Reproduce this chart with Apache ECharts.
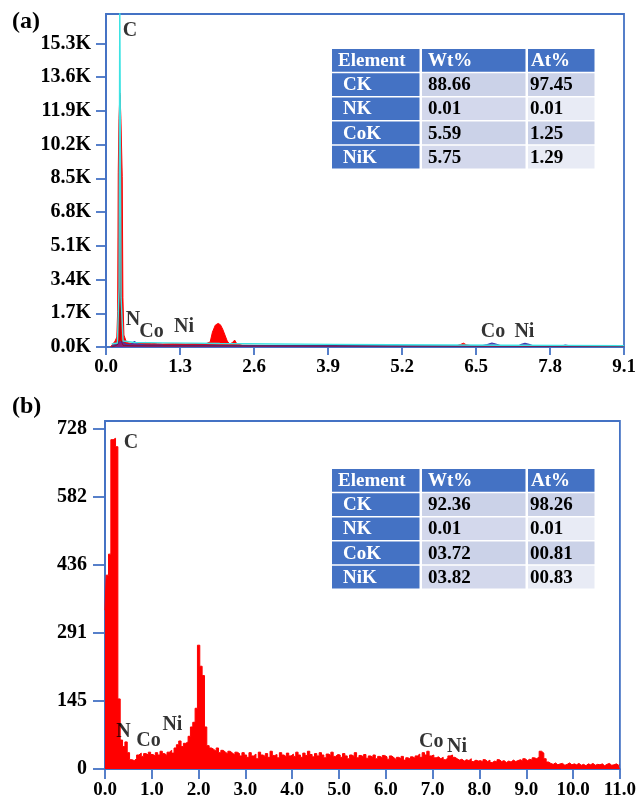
<!DOCTYPE html>
<html><head><meta charset="utf-8">
<script src="https://cdn.jsdelivr.net/npm/echarts@6/dist/echarts.min.js"></script>
<style>html,body{margin:0;padding:0;background:#fff}#c{width:639px;height:800px}</style>
</head><body><div id="c"></div>
<script>
const FONT = '"Liberation Serif","Times New Roman",serif';
const BLUE = '#4472C4';

// ---------- Panel (a) ----------
const xTicksA = [0, 1.3, 2.6, 3.9, 5.2, 6.5, 7.8, 9.1];
const yTicksA = [0, 1700, 3400, 5100, 6800, 8500, 10200, 11900, 13600, 15300];
// red filled spectrum [keV, counts]
const redA = [[0.08,0],[0.12,150],[0.16,300],[0.19,500],[0.205,1800],[0.215,8800],[0.228,11500],[0.245,12800],[0.262,11500],[0.285,8600],[0.297,2500],[0.315,600],[0.36,230],
  [0.42,190],[0.5,160],[0.6,210],[0.7,230],[0.8,190],[0.9,160],[1.0,150],[1.2,160],[1.4,150],[1.6,160],[1.75,160],[1.83,250],[1.87,750],[1.92,1100],[1.97,1190],
  [2.01,1120],[2.05,900],[2.09,600],[2.13,300],[2.17,150],[2.22,220],[2.26,350],[2.3,150],[2.4,90],[2.8,80],[3.5,70],[4.5,60],[5.5,55],[6.15,55],[6.23,130],
  [6.28,190],[6.33,110],[6.45,50],[7.0,45],[8.0,40],[9.1,35]];
// cyan trace
const cyanA = [[0.1,150],[0.2,200],[0.23,3000],[0.242,17500],[0.252,17500],[0.265,2500],[0.3,300],[0.5,230],[1.0,210],[1.5,195],[2.0,175],[3.0,150],
  [4.0,130],[5.0,110],[6.0,100],[7.0,90],[8.0,80],[9.1,70]];
// dark trace
const darkA = [[0.1,0],[0.2,100],[0.24,400],[0.247,12700],[0.254,400],[0.3,80],[0.5,60],[9.1,40]];
// blue/purple trace
const purpleA = [[0.1,50],[0.2,150],[0.24,260],[0.3,230],[0.36,120],[0.45,150],[0.5,280],[0.55,150],[0.7,100],[1.0,90],[2.0,80],[4.0,70],[6.6,60],
  [6.7,120],[6.78,200],[6.86,140],[6.94,60],[7.25,60],[7.3,140],[7.36,180],[7.43,130],[7.5,60],[8.0,50],[8.07,100],[8.14,55],[9.1,40]];
const labelsA = [[0.42,15920,'C'],[0.474,1360,'N'],[0.80,756,'Co'],[1.37,1008,'Ni'],[6.80,756,'Co'],[7.35,756,'Ni']];

// ---------- Panel (b) ----------
const xTicksB = [0,1,2,3,4,5,6,7,8,9,10,11];
const yTicksB = [0, 145.6, 291.2, 436.8, 582.4, 728];
const bStart = 0, bStep = 0.05;
const countsB = [
  340,415,460,705,708,690,150,62,48,58, 35,20,18,22,30,34,27,33,30,36,
  31,28,35,30,38,33,29,36,40,34, 45,52,60,48,55,58,70,90,100,130,
  265,220,200,90,50,45,42,38,45,35, 40,36,32,38,34,30,36,33,28,35,
  30,25,35,28,32,22,36,30,27,33, 25,38,29,31,24,35,30,26,34,28,
  32,27,36,30,25,34,29,38,31,26, 33,28,35,30,24,32,29,36,27,31,
  30,25,33,28,22,30,27,35,24,29, 26,31,23,28,25,30,22,27,24,29,
  26,21,28,24,20,25,22,27,19,24, 21,26,23,28,32,25,35,30,38,28,
  30,24,26,22,25,20,23,28,30,25, 22,19,21,17,20,18,22,16,19,17,
  18,15,20,16,19,14,17,15,20,16, 18,14,17,15,19,16,18,20,17,22,
  18,21,19,24,22,26,38,34,22,15, 12,10,13,9,11,12,8,10,13,9,
  11,9,12,8,10,7,11,9,12,8, 10,9,11,7,10,12,8,9,11,8,9];
const labelsB = [[0.554,698,'C'],[0.394,80,'N'],[0.93,61,'Co'],[1.44,95,'Ni'],[6.97,59,'Co'],[7.52,48,'Ni']];

// ---------- Tables ----------
const tableHeader = ['Element', 'Wt%', 'At%'];
const tableElements = ['CK', 'NK', 'CoK', 'NiK'];
const wtA = ['88.66', '0.01', '5.59', '5.75'];
const atA = ['97.45', '0.01', '1.25', '1.29'];
const wtB = ['92.36', '0.01', '03.72', '03.82'];
const atB = ['98.26', '0.01', '00.81', '00.83'];

const seriesB = countsB.map((v, i) => [+(bStart + i * bStep).toFixed(2), v]);

function buildTable(x0, y0, wt, at) {
  const colX = [332, 422, 528], colW = [89, 105, 68], rowH = 24.2;
  const els = [];
  const txtFont = 'bold 19px ' + FONT;
  for (let r = 0; r < 5; r++) {
    const y = y0 + r * rowH;
    for (let c = 0; c < 3; c++) {
      let fill;
      if (r === 0 || c === 0) fill = BLUE;
      else if (c === 1) fill = (r % 2 === 1) ? '#CBD2E8' : '#D3D8EC';
      else fill = (r % 2 === 1) ? '#CBD2E8' : '#E8EBF5';
      els.push({type:'rect', shape:{x: colX[c] - 332 + x0, y: y, width: colW[c] - 1.5, height: rowH - 1.5}, style:{fill}});
      let text, tx;
      if (r === 0) { text = tableHeader[c]; tx = c === 0 ? 338 : (c === 1 ? 428 : 531); }
      else if (c === 0) { text = tableElements[r - 1]; tx = 343; }
      else if (c === 1) { text = wt[r - 1]; tx = 428; }
      else { text = at[r - 1]; tx = 530; }
      els.push({type:'text', x: tx - 332 + x0, y: y + rowH / 2, style:{text, font: txtFont, fill: (r === 0 || c === 0) ? '#fff' : '#000', align:'left', verticalAlign:'middle'}});
    }
  }
  return els;
}

const xLabelStyle = {color:'#000', fontFamily: FONT, fontWeight:'bold', fontSize:19};
const yLabelStyle = {color:'#000', fontFamily: FONT, fontWeight:'bold', fontSize:20};
const annLabel = {show:true, position:'inside', formatter:p => p.data[2], color:'#000', fontFamily:FONT, fontWeight:'bold', fontSize:20};

const chart = echarts.init(document.getElementById('c'), null, {renderer:'canvas'});
chart.setOption({
  animation: false,
  backgroundColor: '#fff',
  grid: [
    {left:106, right:15, top:14, bottom:453, show:true, borderColor:BLUE, borderWidth:1.8, backgroundColor:'transparent'},
    {left:105, right:18, top:421, bottom:31, show:true, borderColor:BLUE, borderWidth:1.8, backgroundColor:'transparent'}
  ],
  xAxis: [
    {type:'value', gridIndex:0, min:0, max:9.1, splitLine:{show:false},
      axisLine:{show:true, lineStyle:{color:BLUE, width:1.8}},
      axisTick:{show:true, length:8, customValues:xTicksA, lineStyle:{color:BLUE, width:1.8}},
      axisLabel:Object.assign({margin:11, customValues:xTicksA, formatter:v => v.toFixed(1)}, xLabelStyle)},
    {type:'value', gridIndex:1, min:0, max:11, splitLine:{show:false},
      axisLine:{show:true, lineStyle:{color:BLUE, width:1.8}},
      axisTick:{show:true, length:10, customValues:xTicksB, lineStyle:{color:BLUE, width:1.8}},
      axisLabel:Object.assign({margin:12, customValues:xTicksB, formatter:v => v.toFixed(1)}, xLabelStyle)}
  ],
  yAxis: [
    {type:'value', gridIndex:0, min:0, max:16780, splitLine:{show:false},
      axisLine:{show:true, lineStyle:{color:BLUE, width:1.8}},
      axisTick:{show:true, length:10, customValues:yTicksA, lineStyle:{color:BLUE, width:1.8}},
      axisLabel:Object.assign({margin:15, customValues:yTicksA, formatter:v => (v/1000).toFixed(1) + 'K'}, yLabelStyle)},
    {type:'value', gridIndex:1, min:0, max:745, splitLine:{show:false},
      axisLine:{show:true, lineStyle:{color:BLUE, width:1.8}},
      axisTick:{show:true, length:12, customValues:yTicksB, lineStyle:{color:BLUE, width:1.8}},
      axisLabel:Object.assign({margin:18, customValues:yTicksB, formatter:v => String(Math.floor(v))}, yLabelStyle)}
  ],
  series: [
    {type:'line', xAxisIndex:0, yAxisIndex:0, data:redA, symbol:'none', lineStyle:{color:'#FF0000', width:1}, areaStyle:{color:'#FF0000', opacity:1}, z:2},
    {type:'line', xAxisIndex:0, yAxisIndex:0, data:purpleA, symbol:'none', lineStyle:{color:'#3B3BB0', width:1.2}, areaStyle:{color:'#6A2A9A', opacity:0.8}, z:3},
    {type:'line', xAxisIndex:0, yAxisIndex:0, data:darkA, symbol:'none', lineStyle:{color:'#7a1515', width:0.7}, z:4},
    {type:'line', xAxisIndex:0, yAxisIndex:0, data:cyanA, symbol:'none', lineStyle:{color:'#3DE3E3', width:1.4}, z:5},
    {type:'scatter', xAxisIndex:0, yAxisIndex:0, data:labelsA, symbolSize:0, silent:true, z:6, label:annLabel},
    {type:'line', xAxisIndex:1, yAxisIndex:1, data:seriesB, step:'middle', symbol:'none', lineStyle:{color:'#FF0000', width:1}, areaStyle:{color:'#FF0000', opacity:1}, z:2},
    {type:'scatter', xAxisIndex:1, yAxisIndex:1, data:labelsB, symbolSize:0, silent:true, z:6, label:annLabel}
  ],
  graphic: [
    {type:'text', x:12, y:22, style:{text:'(a)', font:'bold 24px ' + FONT, fill:'#000', align:'left', verticalAlign:'middle'}},
    {type:'text', x:12, y:407, style:{text:'(b)', font:'bold 24px ' + FONT, fill:'#000', align:'left', verticalAlign:'middle'}},
    {type:'group', children: buildTable(332, 49, wtA, atA)},
    {type:'group', children: buildTable(332, 469, wtB, atB)}
  ]
});
</script></body></html>
